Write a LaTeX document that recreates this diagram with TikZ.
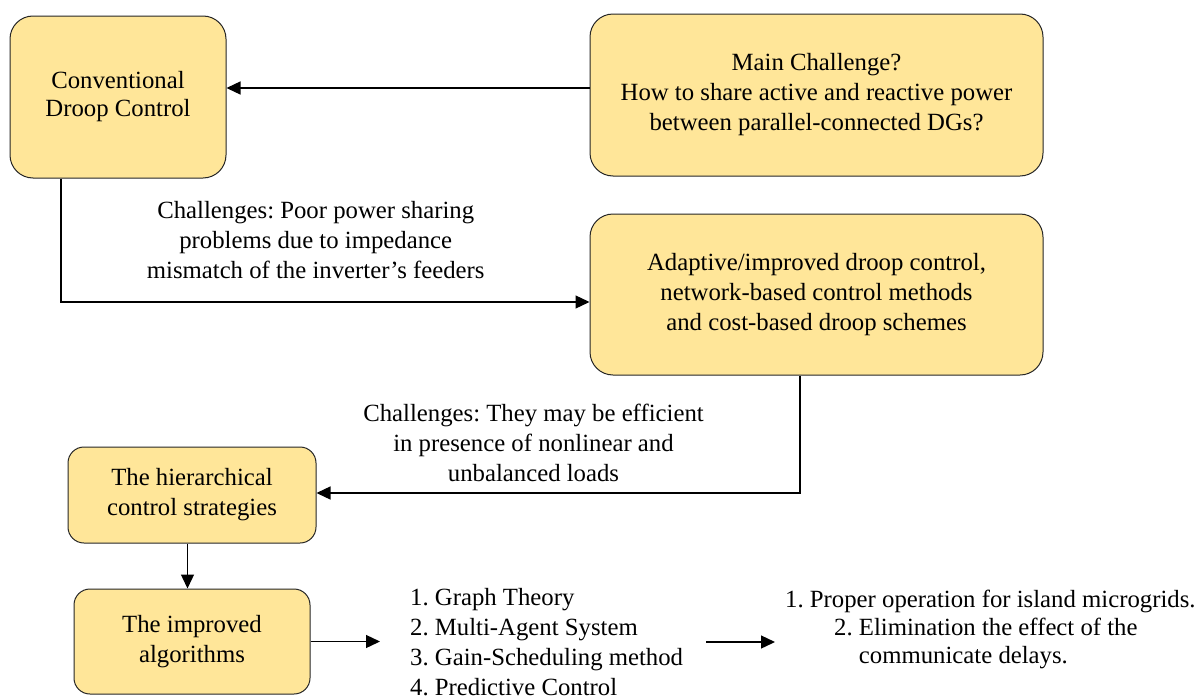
\documentclass[tikz,border=0pt]{standalone}
\usepackage{fontspec}
\setmainfont{Liberation Serif}
\usetikzlibrary{arrows.meta,calc}

\definecolor{boxfill}{HTML}{FFE699}
\frenchspacing

\begin{document}
\begin{tikzpicture}[
		x=1pt, y=-1pt,
		every node/.style={font=\fontsize{24.75}{30}\selectfont},
		block/.style={draw=black!85, line width=1pt, fill=boxfill,
			rounded corners=23pt, align=center, inner sep=0pt},
		smallblock/.style={block, rounded corners=16pt},
		note/.style={align=center, inner sep=0pt},
		flow/.style={line width=1.3pt, -{Triangle[length=14pt,width=13pt]}}
		]
		% =========================
		% Page frame
		% =========================
		\useasboundingbox (0,0) rectangle (1196,696);
		
		% --------------------------------
		% Upper blocks
		% --------------------------------
		\node[block, minimum width=216pt, minimum height=162pt,
		font=\fontsize{24.75}{28}\selectfont] (conv)
		at (118,97) {Conventional\\Droop Control};
		
		\node[block, minimum width=453pt, minimum height=162pt] (main)
		at (816.5,95) {Main Challenge?\\How to share active and reactive power\\between parallel-connected DGs?};
		
		\node[block, minimum width=453pt, minimum height=161pt] (adapt)
		at (816.5,294.5) {Adaptive/improved droop control,\\network-based control methods\\and cost-based droop schemes};
		
		% --------------------------------
		% Lower blocks
		% --------------------------------
		\node[smallblock, minimum width=248pt, minimum height=96pt] (hier)
		at (192,495) {The hierarchical\\control strategies};
		
		\node[smallblock, minimum width=236pt, minimum height=105pt] (impr)
		at (192,641.5) {The improved\\algorithms};
		
		% --------------------------------
		% Free texts
		% --------------------------------
		\node[note] (chal1) at (315.7,240)
		{Challenges: Poor power sharing\\problems due to impedance\\mismatch of the inverter's feeders};
		
		\node[note] (chal2) at (533.5,443)
		{Challenges: They may be efficient\\in presence of nonlinear and\\unbalanced loads};
		
		\node[anchor=west, align=left, inner sep=0pt] (algos) at (410,642)
		{1. Graph Theory\\2. Multi-Agent System\\3. Gain-Scheduling method\\4. Predictive Control};
		
		\node[anchor=west, align=left, inner sep=0pt,
		font=\fontsize{24.75}{28}\selectfont] (result) at (785,629)
		{1. Proper operation for island microgrids.\\
			\hspace*{49pt}2. Elimination the effect of the\\
			\hspace*{73.75pt}communicate delays.};
		
		% --------------------------------
		% Connectors
		% --------------------------------
		\draw[flow] ([yshift=7pt]main.west) -- ([yshift=7pt]main.west -| conv.east);
		\draw[flow] ([xshift=-57pt]conv.south) |- ([yshift=-7.5pt]adapt.west);
		\draw[flow] ([xshift=-16.5pt]adapt.south) |- ([yshift=2pt]hier.east);
		\draw[flow] ([xshift=-4.5pt]hier.south) -- ([xshift=-4.5pt]impr.north);
		\draw[flow] (impr.east) -- ($(algos.west |- impr.east)+(-30,0)$);
		\draw[flow] ([xshift=23pt]algos.east) -- ($(algos.east -| result.west)+(-10,0)$);
		
	\end{tikzpicture}
\end{document}
